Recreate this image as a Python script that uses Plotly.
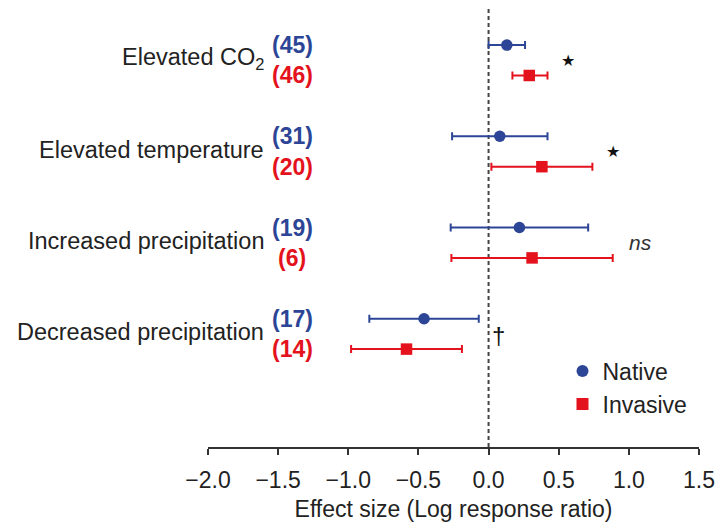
import plotly.graph_objects as go

# ---------------- data ----------------
categories = ["Elevated CO<sub>2</sub>", "Elevated temperature",
              "Increased precipitation", "Decreased precipitation"]
native_n = [45, 31, 19, 17]
invasive_n = [46, 20, 6, 14]
native_mean = [0.13, 0.08, 0.22, -0.46]
native_lo = [0.00, -0.26, -0.27, -0.85]
native_hi = [0.26, 0.42, 0.71, -0.07]
invasive_mean = [0.29, 0.38, 0.31, -0.585]
invasive_lo = [0.17, 0.02, -0.265, -0.98]
invasive_hi = [0.42, 0.74, 0.885, -0.19]
significance = ["★", "★", "<i>ns</i>", "†"]
x_ticks = [-2.0, -1.5, -1.0, -0.5, 0.0, 0.5, 1.0, 1.5]

BLUE = "#2c4596"
RED = "#e3121c"
INK = "#222222"
FONT = "Liberation Sans, Arial, sans-serif"

n = len(categories)
y_native = [-3 * i for i in range(n)]
y_invasive = [-3 * i - 1 for i in range(n)]

fig = go.Figure()

fig.add_trace(go.Scatter(
    x=native_mean, y=y_native, mode="markers", name="Native",
    marker=dict(symbol="circle", size=11.5, color=BLUE),
    error_x=dict(type="data", symmetric=False,
                 array=[h - m for h, m in zip(native_hi, native_mean)],
                 arrayminus=[m - l for m, l in zip(native_mean, native_lo)],
                 color=BLUE, thickness=2, width=4),
))
fig.add_trace(go.Scatter(
    x=invasive_mean, y=y_invasive, mode="markers", name="Invasive",
    marker=dict(symbol="square", size=11.5, color=RED),
    error_x=dict(type="data", symmetric=False,
                 array=[h - m for h, m in zip(invasive_hi, invasive_mean)],
                 arrayminus=[m - l for m, l in zip(invasive_mean, invasive_lo)],
                 color=RED, thickness=2, width=4),
))

# zero reference line
fig.add_shape(type="line", xref="x", yref="paper", x0=0, x1=0, y0=0, y1=1,
              line=dict(color="#444444", width=2, dash="4px,3px"), layer="below")

annotations = []
for i in range(n):
    ymid = -3 * i - 0.5
    annotations.append(dict(x=-1.59, y=ymid + 0.05, xref="x", yref="y", text=categories[i],
                            xanchor="right", yanchor="middle", showarrow=False,
                            font=dict(size=23.5, color=INK, family=FONT)))
    annotations.append(dict(x=-1.40, y=y_native[i], xref="x", yref="y",
                            text=f"<b>({native_n[i]})</b>", xanchor="center", yanchor="middle",
                            showarrow=False, font=dict(size=23, color=BLUE, family=FONT)))
    annotations.append(dict(x=-1.40, y=y_invasive[i], xref="x", yref="y",
                            text=f"<b>({invasive_n[i]})</b>", xanchor="center", yanchor="middle",
                            showarrow=False, font=dict(size=23, color=RED, family=FONT)))
    sym = significance[i]
    sx = max(native_hi[i], invasive_hi[i]) + 0.1
    if "ns" in sym:
        fnt = dict(size=21, color="#333333", family=FONT)
        dy = 0.0
    elif sym == "★":
        fnt = dict(size=16, color="#111111", family="DejaVu Sans")
        dy = 0.0
        sx -= 0.02
    else:
        fnt = dict(size=24, color="#111111", family=FONT)
        dy = -0.05
        sx -= 0.02
    annotations.append(dict(x=sx, y=ymid + dy, xref="x", yref="y",
                            text=sym, xanchor="left", yanchor="middle",
                            showarrow=False, font=fnt))

fig.update_layout(
    width=717, height=522,
    margin=dict(l=208, r=18, t=8, b=75),
    paper_bgcolor="white", plot_bgcolor="white",
    font=dict(family=FONT, size=22, color=INK),
    showlegend=True,
    legend=dict(x=0.722, y=0.222, xanchor="left", yanchor="top",
                font=dict(size=23, color=INK, family=FONT),
                bgcolor="rgba(0,0,0,0)", itemsizing="constant",
                tracegroupgap=0),
    annotations=annotations,
    xaxis=dict(range=[-2.0, 1.5], tickvals=x_ticks,
               ticktext=[f"{v:.1f}".replace("-", "\u2212") for v in x_ticks],
               showline=True, linecolor="#333333", linewidth=2,
               ticks="outside", ticklen=6, tickwidth=2, tickcolor="#333333",
               ticklabelstandoff=5,
               showgrid=False, zeroline=False, automargin=False,
               tickfont=dict(size=23, color=INK, family=FONT),
               title=dict(text="Effect size (Log response ratio)", standoff=13,
                          font=dict(size=23, color=INK, family=FONT))),
    yaxis=dict(range=[-13.22, 1.22], visible=False, showgrid=False, zeroline=False),
)

fig.write_html("out.html")
